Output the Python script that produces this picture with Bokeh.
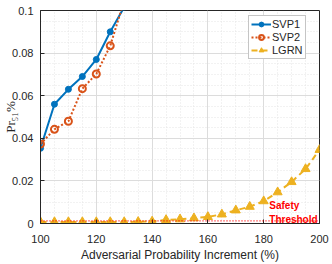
from bokeh.plotting import figure
from bokeh.models import Label, Span, Legend, LegendItem, FixedTicker, Range1d
from bokeh.embed import file_html
from bokeh.resources import INLINE

# ---- data ----
x_svp = [100, 105, 110, 115, 120, 125, 130]
svp1 = [0.0353, 0.056, 0.063, 0.069, 0.077, 0.090, 0.1016]
svp2 = [0.0373, 0.0442, 0.048, 0.0633, 0.0702, 0.0834, 0.1047]
x_lgrn = [100, 105, 110, 115, 120, 125, 130, 135, 140, 145, 150,
          155, 160, 165, 170, 175, 180, 185, 190, 195, 200]
lgrn = [0.0007, 0.0007, 0.0007, 0.0007, 0.0007, 0.0007, 0.0007, 0.0008,
        0.001, 0.0017, 0.002, 0.0025, 0.0031, 0.0043, 0.0062, 0.0079,
        0.0105, 0.0147, 0.0195, 0.0256, 0.0346]
threshold = 0.0012
x_ticks = [100, 120, 140, 160, 180, 200]
y_ticks = [0, 0.02, 0.04, 0.06, 0.08, 0.1]
y_tick_labels = ["0", "0.02", "0.04", "0.06", "0.08", "0.1"]
x_minor = list(range(100, 201, 5))
y_minor = [i * 0.005 for i in range(21)]
series_names = ["SVP1", "SVP2", "LGRN"]

C1, C2, C3 = "#0072BD", "#D95319", "#EDB120"
AX = "#262626"
FONT = "Liberation Sans"

p = figure(width=332, height=264, output_backend="svg", toolbar_location=None,
           x_range=Range1d(100, 200), y_range=Range1d(0, 0.1),
           min_border_left=39, min_border_right=13, min_border_top=10,
           min_border_bottom=38)
p.background_fill_color = "white"
p.border_fill_color = "white"
p.outline_line_color = AX
p.outline_line_width = 1

p.xaxis.ticker = FixedTicker(ticks=x_ticks, minor_ticks=x_minor)
p.yaxis.ticker = FixedTicker(ticks=y_ticks, minor_ticks=y_minor)
p.yaxis.major_label_overrides = {t: s for t, s in zip(y_ticks, y_tick_labels)}

for ax in (p.xaxis, p.yaxis):
    ax.axis_line_color = AX
    ax.major_tick_in = 4
    ax.major_tick_out = 0
    ax.major_tick_line_color = AX
    ax.minor_tick_line_color = None
    ax.major_label_text_font = FONT
    ax.major_label_text_font_size = "11px"
    ax.major_label_text_color = AX
p.xaxis.major_label_standoff = 7
p.yaxis.major_label_standoff = 3
p.xaxis.axis_label = "Adversarial Probability Increment (%)"
p.xaxis.axis_label_text_font = FONT
p.xaxis.axis_label_text_font_size = "12px"
p.xaxis.axis_label_text_font_style = "normal"
p.xaxis.axis_label_text_color = AX
p.xaxis.axis_label_standoff = 2

p.yaxis.axis_label = "Pr\u2085\u2081%"
p.yaxis.axis_label_text_font = "Liberation Serif"
p.yaxis.axis_label_text_font_size = "13px"
p.yaxis.axis_label_text_font_style = "normal"
p.yaxis.axis_label_text_color = AX
p.yaxis.axis_label_standoff = -9

for g in (p.xgrid, p.ygrid):
    g.grid_line_color = "#dcdcdc"
    g.grid_line_width = 1
    g.minor_grid_line_color = "#e4e4e4"
    g.minor_grid_line_dash = "1 2"

p.add_layout(Span(location=threshold, dimension="width", line_color="#FF0000",
                  line_dash="1 2", line_width=1.3))

l1 = p.line(x_svp, svp1, line_color=C1, line_width=2)
m1 = p.scatter(x_svp, svp1, marker="circle", size=6, fill_color=C1, line_color=C1)
l2 = p.line(x_svp, svp2, line_color=C2, line_width=2, line_dash="2 2")
m2 = p.scatter(x_svp, svp2, marker="circle", size=7, fill_color=None,
               line_color=C2, line_width=2)
l3 = p.line(x_lgrn, lgrn, line_color=C3, line_width=2, line_dash="6 4")
m3 = p.scatter(x_lgrn, lgrn, marker="triangle", size=9, fill_color=C3, line_color=C3)

legend = Legend(items=[LegendItem(label=series_names[0], renderers=[l1, m1]),
                       LegendItem(label=series_names[1], renderers=[l2, m2]),
                       LegendItem(label=series_names[2], renderers=[l3, m3])],
                location=(208, 164))
legend.label_text_font = FONT
legend.label_text_font_size = "11px"
legend.label_text_color = AX
legend.glyph_width = 20
legend.glyph_height = 12
legend.label_height = 12
legend.label_width = 10
legend.label_standoff = 1
legend.spacing = 1
legend.padding = 2
legend.margin = 0
legend.border_line_color = "#8c8c8c"
legend.border_line_width = 1
legend.background_fill_color = "white"
legend.background_fill_alpha = 1
p.add_layout(legend)

for txt, yv in (("Safety", 0.0084), ("Threshold", 0.0019)):
    p.add_layout(Label(x=182.0, y=yv, text=txt, text_color="#FF0000",
                       text_font=FONT, text_font_size="10px",
                       text_font_style="bold", text_align="left",
                       text_baseline="middle"))

open("out.html", "w").write(file_html(p, INLINE))
